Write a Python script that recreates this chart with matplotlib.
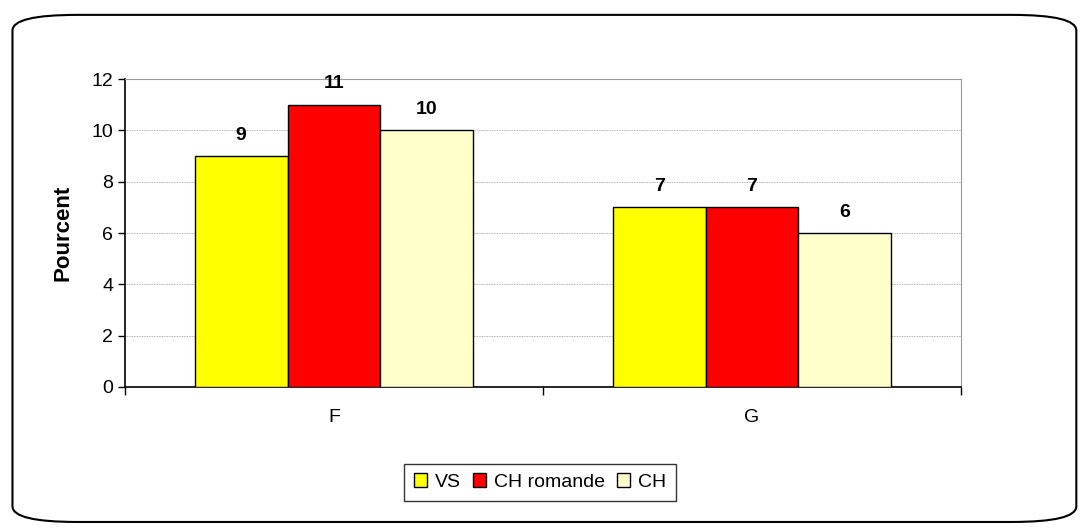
import numpy as np
import matplotlib.pyplot as plt
from matplotlib.patches import FancyBboxPatch

categories = ['F', 'G']
series = ['VS', 'CH romande', 'CH']
vs = [9, 7]
ch_romande = [11, 7]
ch = [10, 6]
colors = ['#FFFF00', '#FF0000', '#FFFFCC']

plt.rcParams['font.family'] = ['Liberation Sans', 'DejaVu Sans']

fig = plt.figure(figsize=(10.85, 5.31), dpi=100)
ax = fig.add_axes([0.1152, 0.2712, 0.7705, 0.58])

# rounded frame around the whole chart
frame = FancyBboxPatch((0.0115, 0.017), 0.9805, 0.955,
                       boxstyle='round,pad=0,rounding_size=0.06',
                       transform=fig.transFigure, fill=False,
                       edgecolor='black', linewidth=1.5,
                       mutation_aspect=531 / 1085)
fig.patches.append(frame)

x = np.arange(len(categories))
width = 0.222
for i, (vals, name) in enumerate(zip([vs, ch_romande, ch], series)):
    pos = x + (i - 1) * width
    bars = ax.bar(pos, vals, width, color=colors[i], edgecolor='black',
                  linewidth=1, label=name, zorder=3)
    for b, v in zip(bars, vals):
        ax.annotate(str(v), (b.get_x() + b.get_width() / 2, v),
                    xytext=(0, 9), textcoords='offset points',
                    ha='center', va='bottom', fontsize=14,
                    fontweight='bold', zorder=4)

ax.set_xlim(-0.5, 1.5)
ax.set_ylim(0, 12)
ax.set_yticks(np.arange(0, 13, 2))
ax.tick_params(axis='y', labelsize=14, length=5, width=1, direction='out')
ax.set_xticks([-0.5, 0.5, 1.5])
ax.set_xticklabels([])
ax.set_xticks(x, minor=True)
ax.set_xticklabels(categories, minor=True)
ax.tick_params(axis='x', which='major', length=6, width=1)
ax.tick_params(axis='x', which='minor', length=0, labelsize=14, pad=16)

ax.yaxis.grid(True, color='#999999', linewidth=0.6, linestyle=(0, (1, 1)))
ax.set_axisbelow(True)
for s in ['top', 'right']:
    ax.spines[s].set_color('#999999')
ax.spines['left'].set_linewidth(1.2)
ax.spines['bottom'].set_linewidth(1.2)

ax.set_ylabel('Pourcent', fontsize=16, fontweight='bold', labelpad=13)

leg = fig.legend(loc='center', bbox_to_anchor=(0.4977, 0.092), ncol=3,
                 fontsize=14, frameon=True, fancybox=False,
                 handlelength=0.7, handleheight=0.7, handletextpad=0.4,
                 columnspacing=0.6, borderpad=0.5)
leg.get_frame().set_edgecolor('black')
leg.get_frame().set_linewidth(1)

fig.savefig('out.png', dpi=100)
